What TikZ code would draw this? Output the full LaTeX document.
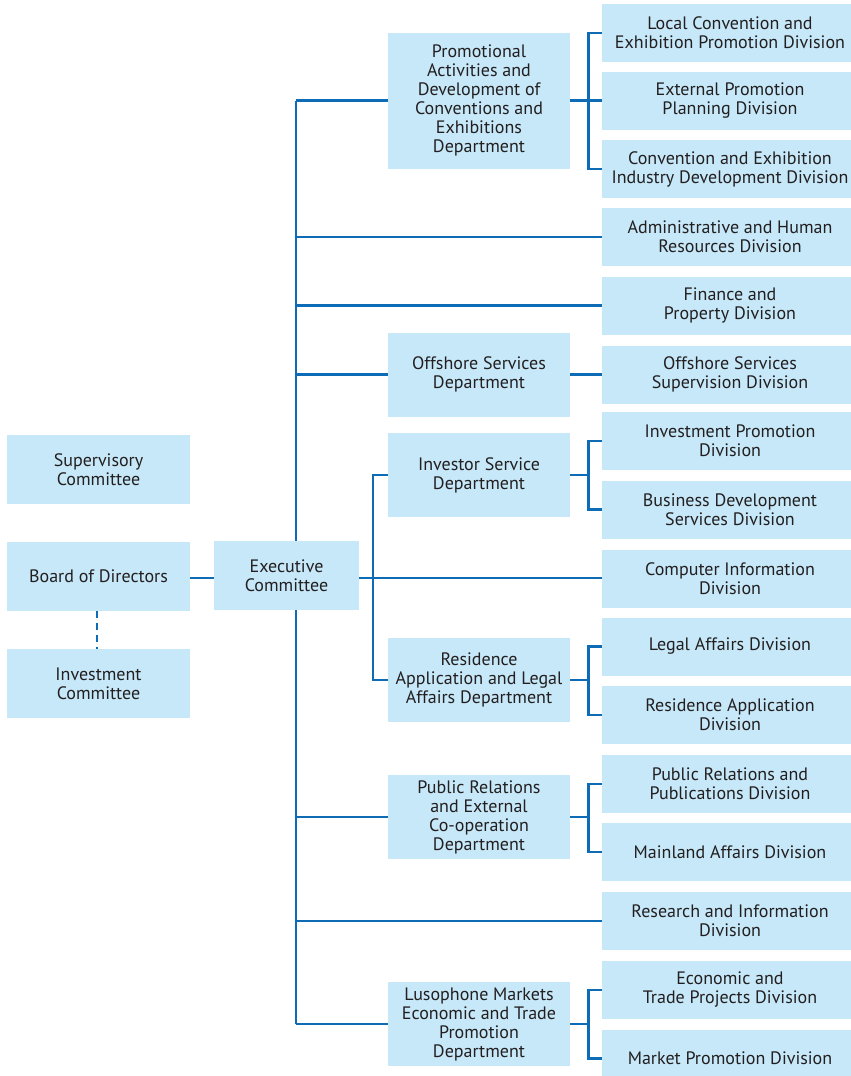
\documentclass[tikz,border=0pt]{standalone}
\usepackage{fontspec}
\setmainfont{PT Sans}
\usetikzlibrary{backgrounds}
\definecolor{boxfill}{HTML}{C6E8F8}
\definecolor{linec}{HTML}{0E6CB6}
\definecolor{txt}{HTML}{231F20}
\tikzset{
  box/.style={fill=boxfill, draw=none, inner sep=0pt, align=center, text=txt,
    font=\fontsize{18}{19}\selectfont},
  leftbox/.style={box, minimum width=183pt, minimum height=69pt},
  deptbox/.style={box, minimum width=182pt, minimum height=84pt},
  divbox/.style={box, minimum width=256pt, minimum height=58pt},
  conn/.style={draw=linec, line width=2.8pt},
}
\begin{document}
\begin{tikzpicture}[x=1pt,y=-1pt]
\useasboundingbox (0,0) rectangle (851,1076);
% left column
\node[leftbox] (sup) at (98.5,469.5) {Supervisory\\Committee};
\node[leftbox] (board) at (98.5,576.5) {Board of Directors};
\node[leftbox] (inv) at (98.5,683.5) {Investment\\Committee};
\node[box, minimum width=145pt, minimum height=69pt] (exec) at (286.5,575.5) {Executive\\Committee};
% departments
\node[deptbox, minimum height=136pt] (promo) at (479,100.5) {Promotional\\Activities and\\Development of\\Conventions and\\Exhibitions\\Department};
\node[deptbox] (offs) at (479,374.5) {Offshore Services\\Department};
\node[deptbox] (invs) at (479,475) {Investor Service\\Department};
\node[deptbox] (resid) at (479,680) {Residence\\Application and Legal\\Affairs Department};
\node[deptbox] (pr) at (479,817) {Public Relations\\and External\\Co-operation\\Department};
\node[deptbox] (luso) at (479,1024) {Lusophone Markets\\Economic and Trade\\Promotion\\Department};
% divisions
\node[divbox] (local) at (730,33) {Local Convention and\\Exhibition Promotion Division};
\node[divbox] (ext) at (730,100.5) {External Promotion\\Planning Division};
\node[divbox] (ceid) at (730,169) {Convention and Exhibition\\Industry Development Division};
\node[divbox] (admin) at (730,237) {Administrative and Human\\Resources Division};
\node[divbox] (fin) at (730,305.5) {Finance and\\Property Division};
\node[divbox] (offsup) at (730,374.5) {Offshore Services\\Supervision Division};
\node[divbox] (ipd) at (730,441) {Investment Promotion\\Division};
\node[divbox] (bds) at (730,509.5) {Business Development\\Services Division};
\node[divbox] (comp) at (730,578.5) {Computer Information\\Division};
\node[divbox] (legal) at (730,646.5) {Legal Affairs Division};
\node[divbox] (resapp) at (730,715) {Residence Application\\Division};
\node[divbox] (prpub) at (730,784) {Public Relations and\\Publications Division};
\node[divbox] (main) at (730,852) {Mainland Affairs Division};
\node[divbox] (res) at (730,921) {Research and Information\\Division};
\node[divbox] (econ) at (730,990) {Economic and\\Trade Projects Division};
\node[divbox] (mkt) at (730,1058.5) {Market Promotion Division};
% connectors
\begin{pgfonlayer}{background}
\coordinate (tt) at (296,100.5);
\coordinate (tb) at (296,1024);
\coordinate (b2) at (373,578);
\draw[conn] (tt) -- (tb);
\draw[conn] (board.east |- b2) -- (exec.west |- b2);
\draw[conn, line width=2.6pt, dash pattern=on 7pt off 5pt] (board.south -| 97,0) -- (inv.north -| 97,0);
\draw[conn] (exec.east |- b2) -- (comp.west |- b2);
\draw[conn] (promo.west -| tt) -- (promo.west);
\draw[conn] (admin.west -| tt) -- (admin.west);
\draw[conn] (fin.west -| tt) -- (fin.west);
\draw[conn] (offs.west -| tt) -- (offs.west);
\draw[conn] (pr.west -| tt) -- (pr.west);
\draw[conn] (res.west -| tt) -- (res.west);
\draw[conn] (luso.west -| tt) -- (luso.west);
\draw[conn] (invs.west) -| (b2) |- (resid.west);
% sub brackets
\draw[conn] (promo.east) -- (ext.west);
\draw[conn] (local.west) -| ([xshift=18pt]promo.east |- ceid.west) -- (ceid.west);
\draw[conn] (offs.east) -- (offsup.west);
\draw[conn] (invs.east) -- ++(18,0);
\draw[conn] (ipd.west) -| ([xshift=18pt]invs.east |- bds.west) -- (bds.west);
\draw[conn] (resid.east) -- ++(18,0);
\draw[conn] (legal.west) -| ([xshift=18pt]resid.east |- resapp.west) -- (resapp.west);
\draw[conn] (pr.east) -- ++(18,0);
\draw[conn] (prpub.west) -| ([xshift=18pt]pr.east |- main.west) -- (main.west);
\draw[conn] (luso.east) -- ++(18,0);
\draw[conn] (econ.west) -| ([xshift=18pt]luso.east |- mkt.west) -- (mkt.west);
\end{pgfonlayer}
\end{tikzpicture}
\end{document}
